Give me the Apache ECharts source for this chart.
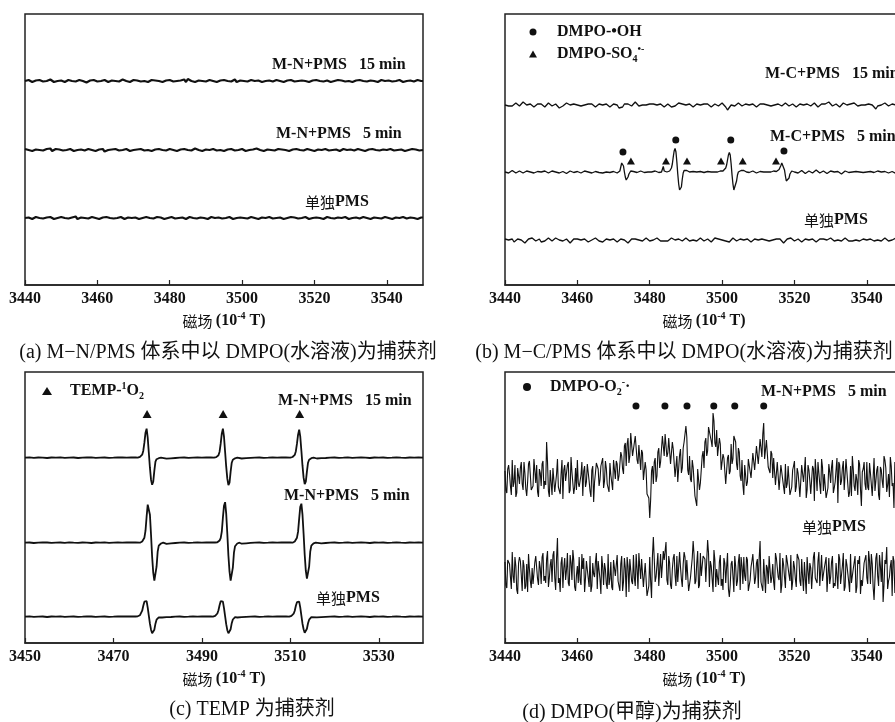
<!DOCTYPE html>
<html><head><meta charset="utf-8">
<script src="https://cdn.jsdelivr.net/npm/echarts@6/dist/echarts.min.js"></script>
<style>html,body{margin:0;padding:0;background:#fff}#c{width:895px;height:722px}</style>
</head><body><div id="c"></div><script>
// ---------------- tick labels ----------------
const fieldTicksABD = [3440, 3460, 3480, 3500, 3520, 3540];
const fieldTicksC = [3450, 3470, 3490, 3510, 3530];
const fieldRangeABD = [3440, 3550];
const fieldRangeC = [3450, 3540];

// ---------------- captions ----------------
const captions = ['(a) M−N/PMS 体系中以 DMPO(水溶液)为捕获剂', '(b) M−C/PMS 体系中以 DMPO(水溶液)为捕获剂', '(c) TEMP 为捕获剂', '(d) DMPO(甲醇)为捕获剂'];

// ---------------- panel (a): readings at whole G and at half G ----------------
const baselinesA = [204, 135, 67];
const noiseA15 = [0,1,-1,0.5,1,-0.5,0,1.5,-1,0, 0.5,-1,1,0,-0.5,1,0,-1.5,0.5,1, -0.5,0,1,-1,0.5,0,-0.5,1.5,0,-1, 1,0.5,-0.5,0,-1,1,0.5,0,-1,0.5, 1,-0.5,0,0.5,1.5,2,0,-1,0.5,0, -0.5,1,0,-1,0.5,1,0,-0.5,1.5,0, -1,0.5,0,1,-0.5,-1,0.5,1,0,-0.5, 1,0,-1,0.5,0,1,-1.5,0,0.5,1, -0.5,0,1,-1,0,0.5,1,-0.5,0,-1, 0.5,1,0,-0.5,1,0,-1,0.5,0,1, -0.5,0.5,0,-1,1,0.5,-0.5,0,1,-0.5,0];
const noiseA15Mid = [-0.5,0.5,0,-1,0.5,1,-0.5,0,0.5,-1, 0,1,-0.5,0.5,0,-1,1,0,-0.5,0.5, 1,-0.5,0,0.5,-1,0,1,-0.5,0,0.5, -1,0,0.5,1,-0.5,0,0.5,-1,0,1, -0.5,0.5,1,0,-1,0.5,0,-0.5,1,0, 0.5,-1,0,0.5,1,-0.5,0,1,-1,0.5, 0,-0.5,1,0,0.5,-1,0,0.5,-0.5,1, 0,-1,0.5,1,-0.5,0,0.5,0,-1,0.5, 1,0,-0.5,0.5,-1,0,1,0.5,-0.5,0, -1,0.5,1,0,-0.5,0.5,0,-1,1,0, 0.5,-0.5,0,1,-1,0,0.5,-0.5,1,0];
const noiseA5 = [1,0,-1,0.5,0,-0.5,1,1.5,0,-1, 0.5,0,-1,1,0.5,-0.5,0,1,-1,0, 1,0.5,-1.5,0,0.5,1,-0.5,0,1,-1, 0,0.5,1,-0.5,0,-1,0.5,1,0,-0.5, 1,0,-1,0.5,1,0,-0.5,1.5,0,-1, 0.5,0,1,-0.5,0,-1,0.5,1,-0.5,0, 1,-1,0,0.5,1.5,0,-1,0.5,0,-0.5, 1,0.5,0,-1,0.5,1,0,-0.5,1,0, -1,0.5,0,1,-0.5,0,0.5,-1,1,0, 0.5,-0.5,1,0,-1,0.5,1,0,-0.5,0.5, 0,1,-0.5,0,0.5,-1,0,1,0.5,-0.5,0];
const noiseA5Mid = [0.5,-1,0,1,-0.5,0.5,0,-1,1,0.5, -0.5,0,1,-1,0,0.5,-0.5,1,0,-1, 0.5,1,0,-0.5,0,1,-1,0.5,0,-0.5, 1,0,-1,0.5,0,1,-0.5,0,0.5,-1, 0,0.5,1,-0.5,0,-1,0.5,1,0,-0.5, 1,0,-0.5,0.5,-1,0,1,0,-0.5,0.5, 0,1,-1,0,0.5,-0.5,1,0,-1,0.5, 0,-0.5,1,0.5,0,-1,0.5,0,1,-0.5, 0,0.5,-1,0,1,-0.5,0,0.5,-1,1, 0,-0.5,0.5,1,0,-1,0,0.5,-0.5,1, 0,-1,0.5,0,1,-0.5,0,-1,0.5,0];
const noiseAPMS = [0,0.5,-1,1,0,-0.5,0.5,1,-1,0, 1,0,-0.5,0.5,1.5,0,-1,0.5,0,1, -0.5,0,1,-1,0,0.5,1,0,-0.5,0, 1,-1,0.5,0,1,-0.5,0,0.5,-1,1, 0,0.5,-0.5,1,0,-1,0.5,0,1,-0.5, 0,1,0.5,-1,0,0.5,-0.5,1,0,-1, 0.5,0,1,-0.5,0,1,-1,0.5,0,0.5, -0.5,1,0,-1,0.5,0,1,-0.5,0,0.5, 1,-1,0,0.5,1,0,-0.5,0.5,-1,0, 1,0.5,0,-0.5,1,0,-1,0.5,1,0, -0.5,0,1,0.5,-1,0,0.5,1,-0.5,0,0.5];
const noiseAPMSMid = [-1,0.5,0,1,-0.5,0,0.5,-1,0,1, 0.5,-0.5,0,1,-1,0.5,0,-0.5,1,0, -1,0.5,1,0,-0.5,0,1,-1,0.5,0, 0.5,-1,0,1,0,-0.5,1,0.5,-1,0, 1,-0.5,0,0.5,-1,1,0,-0.5,0.5,0, -1,1,0,0.5,-0.5,0,1,-1,0,0.5, 0,-0.5,1,0,-1,0.5,0,1,-0.5,0, 0.5,-1,0,1,0.5,-0.5,0,1,-1,0, 0.5,0,-1,1,0,-0.5,0.5,0,1,-1, 0,0.5,-0.5,1,0,-1,0.5,0,-0.5,1, 0,-1,0.5,0,1,-0.5,0.5,0,-1,0.5];

// ---------------- panel (b) ----------------
const baselinesB = [180, 113, 45];
const noiseB15 = [0,1,-1,-3,-1,1,2,0,-1,1,3,2,0,-1,1,0,-2,-1,1,2, 1,-1,-2,0,2,1,-1,0,1,-1,-3,-4,-1,1,2,1,0,-1,1,2, 0,-2,-1,1,0,-1,1,2,1,-1,-2,0,1,2,0,-1,1,0,-2,-1, 1,2,0,-3,-5,-2,1,2,1,0,-1,1,3,1,-1,-2,0,1,0,-1, 1,2,1,-1,0,2,1,-1,-2,-1,1,0,-2,-4,-1,1,2,0,1,-1, 0,2,1,-1,-2,0,1,2,0,-1,1,3,1,-1,-2,-1,1,0,-1,1, 2,0,-2,-5,-3,0,1,-1,0,2,1,-1,-1,1,2,0,-1,1,0,-2, -1,1,2,1,-1,0,1,-1,-2,0,2,1,0,-1,1,2,1,-1,0,1, -1,-2,0,1,2,0,-1,1,0,-1,1,2,0,-2,-1,1,0,1,2,3, 1,-1,0,1,-1,-2,0,2,1,0,-1,1,3,2,0,-1,-2,0,1,0, -1,1,2,0,-2,-4,-1,1,0,1,2,0,-1,0,1,-1,0,1,2,0,1];
const noiseBPMS = [1,-1,0,2,1,-2,-1,1,2,0,-1,-3,-1,1,0,2,1,-1,0,1, -2,-4,-1,1,2,0,-1,1,2,1,0,-2,-1,0,1,-1,-3,-1,1,2, 1,-1,0,2,1,0,-2,-3,0,1,2,1,-1,0,-2,-1,1,2,0,-1, 1,0,-2,-1,1,2,0,-1,-3,-1,1,2,1,-1,0,1,-1,0,2,1, -1,-2,0,1,2,0,-1,1,-1,-3,-1,1,2,1,0,-1,1,0,-1,1, 2,1,-1,-2,0,1,-1,0,2,1,-1,0,1,-1,-2,0,2,3,1,-1, 0,1,-1,-3,-2,0,2,1,-1,0,1,2,0,-1,1,0,-2,-1,1,2, 0,-1,1,2,0,-2,-1,1,0,-1,1,2,1,-1,-3,-1,1,0,2,1, -1,0,1,-1,-2,0,1,2,0,-1,1,0,-2,-1,1,2,1,-1,0,1, 2,0,-1,-2,0,1,-1,0,2,1,-1,-3,-1,1,0,1,-1,0,1,2, 0,-1,1,2,-1,-2,0,1,-1,0,2,1,-1,-2,0,1,2,0,-1,1,0];
const b5Base1 = [0,1,-1,0,1.5,0.5,-1,-0.5,1,0, -1,0.5,1,-0.5,0,1,-1,-1.5,0.5,1, 0,-0.5,1,0.5,-1,0,1,-0.5,0,0.5, -1,1,0.5,0,-1.5,-0.5,1,0,-0.5,1, 0.5,0,-1,0.5,1,-0.5,0,1,-1,0, 0.5,1,-0.5,0,-1,0.5,0,1,-0.5,0, 0.5,-0.5];
const b5Oh1 = [-1,-2,-1,1,5,9,10,6,0,-5,-8,-8,-5,-2,0,1,1.5,1,0.5];
const b5Base2 = [0,-0.5,0.5,1,0,-0.5,0.5,0,-1,0,0.5,1,0,-0.5,0];
const b5Oh2 = [0,2,5.5,1,0,0.5,0,0.5,0.5,1,2,4,8,15,21,23.5,20,10,-2,-12,-18,-19,-15,-7,-1,1.5,2,2,1.5,0.5,0,0];
const b5Base3 = [0,0.5,-0.5,0,1,0.5,0,-0.5,0,0.5,1,0,-0.5,0,0.5];
const b5Oh3 = [0,0.5,0,1,2,1,1,1.5,2.5,4,7,12,17,19.5,17,8,-3,-12,-18,-19.5,-16,-9,-3,0,1,1.5,1.5,2,2.5,1.5,0.5,0,0];
const b5Base4 = [0,-0.5,0.5,1,0,-1,0,0.5,1,0,-0.5,0,0.5,0];
const b5Oh4 = [0,1,2,1.5,0.5,1,1.5,2.5,4,6.5,9,10,7,2,-4,-9,-11,-10.5,-6,-2,0,1,0.5,-0.5,0];
const b5Base5 = [1,-1,0,1.5,-0.5,-1.5,0.5,1,0,-1, 1,2,0,-1,-0.5,1,0,-1.5,0.5,1, -0.5,0,1.5,0.5,-1,-2,0,1,0.5,-0.5, 1,0,-1,0.5,1.5,0,-1,-0.5,1,0, -1.5,0.5,1,-0.5,0,1,2,0,-1,0.5, 0,-1,1,0.5,-0.5,-1.5,0,1,0.5,0];
const ohFields = [3472.6, 3487.2, 3502.4, 3517.1];
const ohLevels = [133, 145, 145, 134];
const so4Fields = [3474.8, 3484.5, 3490.3, 3499.7, 3505.7, 3514.9];
const so4Levels = [124, 124, 124, 124, 124, 124];

// ---------------- panel (c) ----------------
const baselinesC = [185.3, 100.3, 26.3];
const c15Base0 = [0,0.3,-0.2,0.2,0,-0.3,0.2,0,0.3,-0.2,0,0.2,-0.3,0,0.2,0.3,-0.2,0,0.2,-0.2,0,0.3,0.2,0,0.2,0.3];
const c15Peak1 = [0,0.3,0.8,1.5,3,7,15,25,29,20,5,-10,-22,-27,-24,-13,-4,-1.5,-0.8,-0.5,-0.3,0];
const c15Base1 = [-1,-0.6,-0.3,0,0.2,-0.2,0,0.2,0,0.3,0.2];
const c15Peak2 = [0,0.2,0.6,1.2,2.5,6,14,24,29,21,6,-9,-21,-27.5,-25,-14,-5,-2,-1,-0.6,-0.3,0];
const c15Base2 = [-0.8,-0.5,-0.2,0,0.2,-0.2,0,0.3,0,0.2,0.3];
const c15Peak3 = [0,0.3,0.7,1.4,2.8,6.5,14,23,28,21,7,-8,-20,-26.5,-24,-14,-5,-2,-1,-0.5,-0.2,0];
const c15Base3 = [-0.8,-0.5,-0.3,0,0.2,-0.2,0,0.3,-0.2,0,0.2,0,-0.3,0.2,0,0.2,-0.2,0,0.3,0,-0.2,0.2,0,0.2,0];
const c5Base0 = [0,0.2,-0.3,0,0.3,0.2,-0.2,0,0.2,-0.2,0.3,0,-0.2,0.2,0,-0.3,0.2,0,0.3,-0.2,0,0.2,0,0.3,0.2,0.2];
const c5Peak1 = [0,0.5,1.2,2.5,5,12,26,38,40,28,8,-14,-30,-38,-37,-24,-9,-3,-1.5,-0.8,-0.3,0];
const c5Base1 = [-1.2,-0.7,-0.3,0,0.2,-0.2,0,0.3,0,0.2,0.3,0.2];
const c5Peak2 = [0,0.4,1,2.2,4.5,11,25,37,40.5,29,9,-13,-29,-38,-38,-25,-10,-3.5,-1.5,-0.8,-0.3,0];
const c5Base2 = [-1,-0.6,-0.2,0,0.2,-0.2,0,0.3,0,0.2,0.2,0.3];
const c5Peak3 = [0,0.5,1.2,2.5,5,11,24,36,39,28,9,-12,-28,-36,-36,-24,-9,-3,-1.5,-0.7,-0.3,0];
const c5Base3 = [-1,-0.6,-0.3,0,0.2,-0.2,0,0.3,-0.2,0,0.2,0,-0.3,0.2,0,0.2,-0.2,0,0.3,0,-0.2,0.2,0,0.2,0];
const cPBase0 = [0,0.3,-0.2,0,0.2,-0.3,0.2,0,0.3,-0.2,0,0.2,-0.2,0,0.3,0.2,-0.2,0,0.2,-0.2,0,0.3,0.2,0.2,0.3,0.2];
const cPPeak1 = [0,0.4,0.8,1.5,3,6,11,15,17,15.5,9,1,-7,-13,-16.5,-17,-13,-7,-3,-1.5,-0.6,0];
const cPBase1 = [-0.8,-0.5,-0.3,0,0.2,-0.2,0,0.3,0,0.2,0.3,0.2];
const cPPeak2 = [0,0.3,0.8,1.6,3.2,6.5,11.5,15.5,17,15,8.5,0.5,-7.5,-13.5,-16.5,-16.5,-12.5,-6.5,-2.8,-1.2,-0.5,0];
const cPBase2 = [-0.8,-0.5,-0.2,0,0.2,-0.2,0,0.3,0,0.2,0.2,0.3];
const cPPeak3 = [0,0.4,0.9,1.5,3,6,11,14.5,16.5,15,9,1,-7,-12.5,-16,-16,-12,-6.5,-3,-1.3,-0.5,0];
const cPBase3 = [-0.6,-0.4,-0.2,0,0.2,-0.2,0,0.3,-0.2,0,0.2,0,-0.3,0.2,0,0.2,-0.2,0,0.3,0,-0.2,0.2,0,0.2,0];
const tempFields = [3477.6, 3494.8, 3512.1];
const tempLevels = [229, 229, 229];

// ---------------- panel (d): readings at x.0/x.5 and at x.25/x.75 ----------------
const baselinesD = [165, 71];
const d5Signal = [7,-15,13,-8,18,-4,-19,10,-6,16,-12,5,-18,14,3,-10,19,-5,-14,9, -8,17,-3,36,-13,8,-17,12,-5,19,-10,4,-21,13,-1,16,-12,6,-16,10, 18,-9,3,-18,12,-4,16,-13,8,-24,5,14,-8,12,20,-3,10,-6,15,4, 18,-1,14,2,26,9,32,12,40,22,44,24,42,18,33,8,25,-2,8,-18, -40,7,-6,20,2,30,16,42,22,45,25,38,12,29,1,22,-2,29,10,36, 52,8,22,-4,11,-18,-28,7,-5,22,10,40,27,52,37,65,35,48,20,34, 6,20,-6,20,4,34,19,40,14,30,2,18,-17,14,-4,20,0,25,8,32, 14,39,21,55,18,36,8,27,0,18,-7,14,-13,12,-9,14,-6,10,-16,8, 17,-9,5,-19,13,-4,21,-12,8,-16,12,-23,4,16,-6,19,-13,3,-18,14, -5,18,-10,8,-25,13,-3,17,-14,6,-19,12,22,-8,4,-17,14,-28,9,-6, 16,-12,5,-18,20,-3,12,-22,8,-10,18,-14,4,21,-8,-30,13,-4,17,-13,6];
const d5SignalMid = [-12,9,4,-17,-9,13,-15,2,10,-6,16,-11,-4,17,-12,-8,7,13,-19,5, 14,-11,-7,16,-19,6,10,-14,4,-9,-16,18,8,-3,13,-15,21,7,-9,-12, -5,-11,16,7,-9,14,-3,-19,12,-4,15,9,-2,13,-10,17,-6,-14,3,-12, 19,17,-3,3,22,4,35,34,15,45,22,20,42,14,32,28,-2,16,-16,-20, -22,12,16,-4,26,10,17,42,44,21,40,14,36,27,0,-4,23,5,30,37, 41,3,-1,18,10,-18,9,-12,-4,27,36,22,51,53,31,57,31,22,40,8, 24,18,-5,23,7,14,42,36,8,26,-3,-7,13,-8,19,21,0,24,6,34, 13,39,44,19,38,11,5,24,20,-7,16,-12,13,11,-16,-10,12,-17,-9,12, -14,10,-6,-18,11,7,-20,13,-3,-15,9,19,-13,5,-16,11,4,-20,-10,6, 11,-15,-4,20,16,-7,10,-12,19,4,-14,-18,9,-13,-2,18,-11,6,16,-12, -9,15,6,-19,-13,8,-17,11,-3,22,10,-7,-19,12,-5,16,-21,-9,12,14];
const dPMSSignal = [10,-16,14,-5,20,-11,6,-22,15,-3,12,-17,8,18,-9,4,-14,16,-7,11, -12,19,-4,13,-15,7,-10,21,-18,34,-6,9,-16,14,2,-11,17,-8,12,-19, 6,15,-13,3,-20,11,-6,16,-14,-2,10,-17,13,-22,5,9,-12,18,-7,-15, 12,-4,17,-11,8,-19,14,-25,6,13,-9,17,-14,3,19,-7,11,-16,10,-22, 15,-26,35,-10,7,-14,18,-5,12,30,-13,9,-17,14,-3,16,-11,5,-15,20, -8,13,-18,4,31,-12,9,-16,19,-6,14,-10,32,-15,6,-20,12,3,-13,17, -7,14,-11,19,-25,8,-4,16,-14,10,-18,6,15,-9,12,-21,5,18,-12,9, -16,31,-8,13,-21,4,16,-11,8,-18,14,-5,19,-13,7,-16,11,-3,17,-10, 5,-15,18,-9,13,-19,8,15,-12,4,-17,20,-6,11,-14,17,-8,3,-20,14, -5,16,-11,9,-17,13,-3,19,-15,7,-10,18,-13,5,-21,12,16,-8,-14,10, -6,21,-12,8,-28,14,-4,17,-10,-30,12,25,-9,6,-24,11,-7,28,-13,4,9];
const dPMSSignalMid = [-13,12,8,-17,-4,15,-18,9,11,-19,6,-14,-20,3,-16,-12,10,17,-13,4, 15,-9,-11,21,-6,13,17,-6,14,-11,-20,15,4,-8,19,-14,9,22,-15,-3, -11,-8,18,14,-6,12,-15,-20,9,-5,19,11,-7,16,-13,3,-17,-13,10,-18, 14,7,-9,-19,16,-10,4,15,-20,12,-12,-6,18,-17,5,13,-15,9,-24,-14, -9,16,13,-5,19,-12,-6,21,11,-8,16,-13,3,18,-14,-10,20,-7,8,15, 12,-19,-6,14,17,-9,21,-13,-4,16,13,-8,19,11,-7,22,-15,-6,10,-14, -18,9,5,-17,-13,11,-20,6,-9,18,15,-12,-4,15,-19,-8,11,20,-6,13, 14,-10,-19,15,7,-12,16,-5,-10,19,12,-8,-21,14,-5,17,13,-9,-18,11, -7,18,12,-14,-5,10,-22,13,9,-17,15,-6,-11,20,-16,-9,4,15,-19,-12, 10,-16,-14,7,18,-12,6,-19,13,9,-20,-11,3,16,-15,8,-22,-14,9,17, -12,11,18,-15,-7,19,-14,6,20,-13,8,-17,-5,12,16,-21,-10,9,-23,14];
const supFields = [3476.2, 3484.2, 3490.3, 3497.7, 3503.5, 3511.5];
const supLevels = [237, 237, 237, 237, 237, 237];

// ---------------- build ----------------
function trace(segments, base) {
  const out = [];
  segments.forEach(s => s.values.forEach((v, i) => out.push([Math.round((s.start + i * s.step) * 1000) / 1000, base + v])));
  out.sort((p, q) => p[0] - q[0]);
  return out;
}
function zip(a, b) { return a.map((x, i) => [x, b[i]]); }

const INK = '#111';
const FRAME = '#222';
const SERIF = '"Liberation Serif","Times New Roman","Noto Sans CJK SC",serif';
const CJK = '"Noto Sans CJK SC","Liberation Serif",sans-serif';
const RICH = {
  b: {fontFamily: SERIF, fontWeight: 'bold', fontSize: 16, fill: INK, color: INK, lineHeight: 20},
  c: {fontFamily: CJK, fontSize: 15, fill: INK, color: INK, lineHeight: 20},
  sup: {fontFamily: SERIF, fontWeight: 'bold', fontSize: 10, fill: INK, color: INK, lineHeight: 12, verticalAlign: 'top'},
  sub: {fontFamily: SERIF, fontWeight: 'bold', fontSize: 10, fill: INK, color: INK, lineHeight: 12, verticalAlign: 'bottom'},
  cap: {fontFamily: SERIF, fontSize: 20, fill: INK, color: INK, lineHeight: 24}
};

const grids = [
  {left: 25, top: 14, width: 398, height: 271},
  {left: 505, top: 14, width: 398, height: 271},
  {left: 25, top: 372, width: 398, height: 271},
  {left: 505, top: 372, width: 398, height: 271}
].map(g => Object.assign({show: true, borderColor: FRAME, borderWidth: 1.5, backgroundColor: 'transparent', containLabel: false, outerBoundsMode: 'none'}, g));

function xAxis(gi, range, ticks) {
  return {
    type: 'value', gridIndex: gi, min: range[0], max: range[1],
    axisLine: {show: true, onZero: false, lineStyle: {color: FRAME, width: 1.5}},
    axisTick: {show: true, inside: true, length: 5, customValues: ticks, lineStyle: {color: FRAME, width: 1.2}},
    axisLabel: {show: true, customValues: ticks, formatter: v => String(v), margin: 6, color: INK, fontFamily: SERIF, fontWeight: 'bold', fontSize: 16},
    splitLine: {show: false},
    name: '{c|磁场} {b|(10}{sup|-4}{b| T)}', nameLocation: 'middle', nameGap: 26,
    nameTextStyle: {rich: RICH, color: INK}
  };
}
function yAxis(gi) { return {type: 'value', gridIndex: gi, min: 0, max: 271, show: false}; }

function line(gi, data, width) {
  return {type: 'line', xAxisIndex: gi, yAxisIndex: gi, data, showSymbol: false, symbol: 'none', silent: true,
    lineStyle: {color: INK, width: width, opacity: 1}, animation: false, clip: true};
}
function marks(gi, data, symbol, size) {
  return {type: 'scatter', xAxisIndex: gi, yAxisIndex: gi, data, symbol, symbolSize: size, silent: true,
    itemStyle: {color: INK, opacity: 1}, animation: false};
}

const series = [
  line(0, trace([{start: 3440, step: 1, values: noiseA15}, {start: 3440.5, step: 1, values: noiseA15Mid}], baselinesA[0]), 2.2),
  line(0, trace([{start: 3440, step: 1, values: noiseA5}, {start: 3440.5, step: 1, values: noiseA5Mid}], baselinesA[1]), 2.2),
  line(0, trace([{start: 3440, step: 1, values: noiseAPMS}, {start: 3440.5, step: 1, values: noiseAPMSMid}], baselinesA[2]), 2.2),

  line(1, trace([{start: 3440, step: 0.5, values: noiseB15}], baselinesB[0]), 1.3),
  line(1, trace([
    {start: 3440, step: 0.5, values: b5Base1}, {start: 3471, step: 0.25, values: b5Oh1},
    {start: 3476, step: 0.5, values: b5Base2}, {start: 3483.25, step: 0.25, values: b5Oh2},
    {start: 3491.5, step: 0.5, values: b5Base3}, {start: 3498.75, step: 0.25, values: b5Oh3},
    {start: 3507, step: 0.5, values: b5Base4}, {start: 3514, step: 0.25, values: b5Oh4},
    {start: 3520.5, step: 0.5, values: b5Base5}], baselinesB[1]), 1.3),
  line(1, trace([{start: 3440, step: 0.5, values: noiseBPMS}], baselinesB[2]), 1.3),
  marks(1, zip(ohFields, ohLevels), 'circle', 7),
  marks(1, zip(so4Fields, so4Levels), 'triangle', [8, 7]),

  line(2, trace([
    {start: 3450, step: 1, values: c15Base0}, {start: 3475.5, step: 0.25, values: c15Peak1},
    {start: 3482, step: 1, values: c15Base1}, {start: 3492.75, step: 0.25, values: c15Peak2},
    {start: 3499, step: 1, values: c15Base2}, {start: 3510, step: 0.25, values: c15Peak3},
    {start: 3516, step: 1, values: c15Base3}], baselinesC[0]), 1.8),
  line(2, trace([
    {start: 3450, step: 1, values: c5Base0}, {start: 3476, step: 0.25, values: c5Peak1},
    {start: 3482, step: 1, values: c5Base1}, {start: 3493.25, step: 0.25, values: c5Peak2},
    {start: 3499, step: 1, values: c5Base2}, {start: 3510.5, step: 0.25, values: c5Peak3},
    {start: 3516, step: 1, values: c5Base3}], baselinesC[1]), 1.8),
  line(2, trace([
    {start: 3450, step: 1, values: cPBase0}, {start: 3475.25, step: 0.25, values: cPPeak1},
    {start: 3481, step: 1, values: cPBase1}, {start: 3492.5, step: 0.25, values: cPPeak2},
    {start: 3498, step: 1, values: cPBase2}, {start: 3509.75, step: 0.25, values: cPPeak3},
    {start: 3516, step: 1, values: cPBase3}], baselinesC[2]), 1.8),
  marks(2, zip(tempFields, tempLevels), 'triangle', [9, 8]),

  line(3, trace([{start: 3440, step: 0.5, values: d5Signal}, {start: 3440.25, step: 0.5, values: d5SignalMid}], baselinesD[0]), 1.1),
  line(3, trace([{start: 3440, step: 0.5, values: dPMSSignal}, {start: 3440.25, step: 0.5, values: dPMSSignalMid}], baselinesD[1]), 1.1),
  marks(3, zip(supFields, supLevels), 'circle', 7)
];

function txt(x, y, text, align) {
  return {type: 'text', silent: true, style: {x, y, text, align: align || 'left', verticalAlign: 'middle', rich: RICH, fill: INK}};
}
function dot(cx, cy, r) { return {type: 'circle', silent: true, shape: {cx, cy, r}, style: {fill: INK}}; }
function tri(cx, cy, w, h) { return {type: 'polygon', silent: true, shape: {points: [[cx, cy - h / 2], [cx - w / 2, cy + h / 2], [cx + w / 2, cy + h / 2]]}, style: {fill: INK}}; }

const graphic = [
  txt(272, 65, '{b|M-N+PMS   15 min}'),
  txt(276, 134, '{b|M-N+PMS   5 min}'),
  txt(305, 202, '{c|单独}{b|PMS}'),
  dot(533, 32, 3.5), txt(557, 32, '{b|DMPO-•OH}'),
  tri(533, 54, 8, 7), txt(557, 54, '{b|DMPO-SO}{sub|4}{sup|•-}'),
  txt(765, 74, '{b|M-C+PMS   15 min}'),
  txt(770, 137, '{b|M-C+PMS   5 min}'),
  txt(804, 220, '{c|单独}{b|PMS}'),
  tri(47, 391, 10, 8), txt(70, 391, '{b|TEMP-}{sup|1}{b|O}{sub|2}'),
  txt(278, 401, '{b|M-N+PMS   15 min}'),
  txt(284, 496, '{b|M-N+PMS   5 min}'),
  txt(316, 598, '{c|单独}{b|PMS}'),
  dot(527, 387, 4), txt(550, 387, '{b|DMPO-O}{sub|2}{sup|-}{b|·}'),
  txt(761, 392, '{b|M-N+PMS   5 min}'),
  txt(802, 527, '{c|单独}{b|PMS}'),
  txt(228, 353, '{cap|' + captions[0] + '}', 'center'),
  txt(684, 353, '{cap|' + captions[1] + '}', 'center'),
  txt(252, 710, '{cap|' + captions[2] + '}', 'center'),
  txt(632, 713, '{cap|' + captions[3] + '}', 'center')
];

const chart = echarts.init(document.getElementById('c'), null, {renderer: 'canvas'});
chart.setOption({
  animation: false,
  backgroundColor: '#fff',
  grid: grids,
  xAxis: [xAxis(0, fieldRangeABD, fieldTicksABD), xAxis(1, fieldRangeABD, fieldTicksABD), xAxis(2, fieldRangeC, fieldTicksC), xAxis(3, fieldRangeABD, fieldTicksABD)],
  yAxis: [yAxis(0), yAxis(1), yAxis(2), yAxis(3)],
  series,
  graphic
});
</script></body></html>
